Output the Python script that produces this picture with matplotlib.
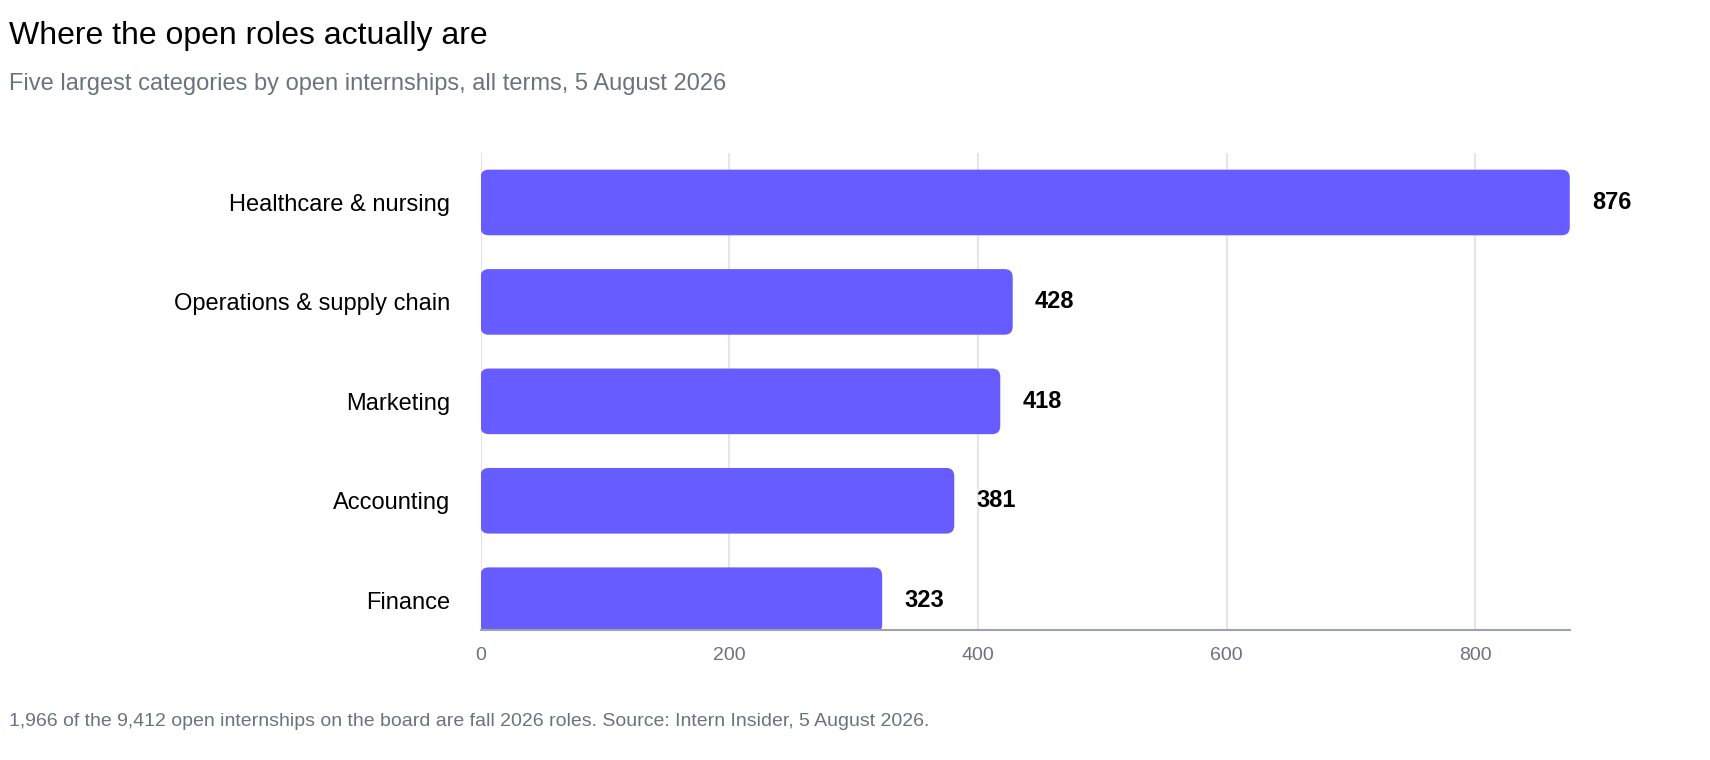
import matplotlib.pyplot as plt
from matplotlib.patches import FancyBboxPatch

plt.rcParams['font.family'] = ['Liberation Sans', 'DejaVu Sans']

categories = ['Healthcare & nursing', 'Operations & supply chain', 'Marketing', 'Accounting', 'Finance']
values = [876, 428, 418, 381, 323]
ticks = [0, 200, 400, 600, 800]

bar_color = '#675cff'
grey = '#6b7280'

fig = plt.figure(figsize=(17.1, 7.6), dpi=100)
ax = fig.add_axes([0.281, 0.171, 0.637, 0.628])

n = len(categories)
ys = [n - 1 - i for i in range(n)]
h = 0.66
ax.set_xlim(0, 876)
ax.set_ylim(-0.3, n - 0.5)

for y, v in zip(ys, values):
    ax.add_patch(FancyBboxPatch((0, y - h / 2), v, h,
                                boxstyle='round,pad=0,rounding_size=6.5',
                                mutation_aspect=0.0125,
                                facecolor=bar_color, edgecolor='none', zorder=2))
    ax.text(v + 18, y, str(v), va='center', ha='left', fontsize=17,
            fontweight='bold', color='black', zorder=3)

ax.set_yticks(ys)
ax.set_yticklabels(categories, fontsize=17)
ax.set_xticks(ticks)
ax.set_xticklabels([str(t) for t in ticks], fontsize=14, color=grey)
ax.tick_params(axis='both', length=0, pad=12)
ax.tick_params(axis='y', pad=22)
ax.grid(axis='x', color='#e5e5ea', linewidth=1.5, zorder=0)
ax.set_axisbelow(True)
for s in ['top', 'right', 'left']:
    ax.spines[s].set_visible(False)
ax.spines['bottom'].set_color('#9ca3af')
ax.spines['bottom'].set_linewidth(1.5)
ax.spines['bottom'].set_zorder(4)

fig.text(0.005, 0.953, 'Where the open roles actually are', fontsize=23,
         ha='left', va='center', color='black')
fig.text(0.005, 0.89, 'Five largest categories by open internships, all terms, 5 August 2026',
         fontsize=17, ha='left', va='center', color=grey)
fig.text(0.005, 0.05, '1,966 of the 9,412 open internships on the board are fall 2026 roles. '
         'Source: Intern Insider, 5 August 2026.', fontsize=14, ha='left', va='center', color=grey)

fig.savefig('out.png', dpi=100)
